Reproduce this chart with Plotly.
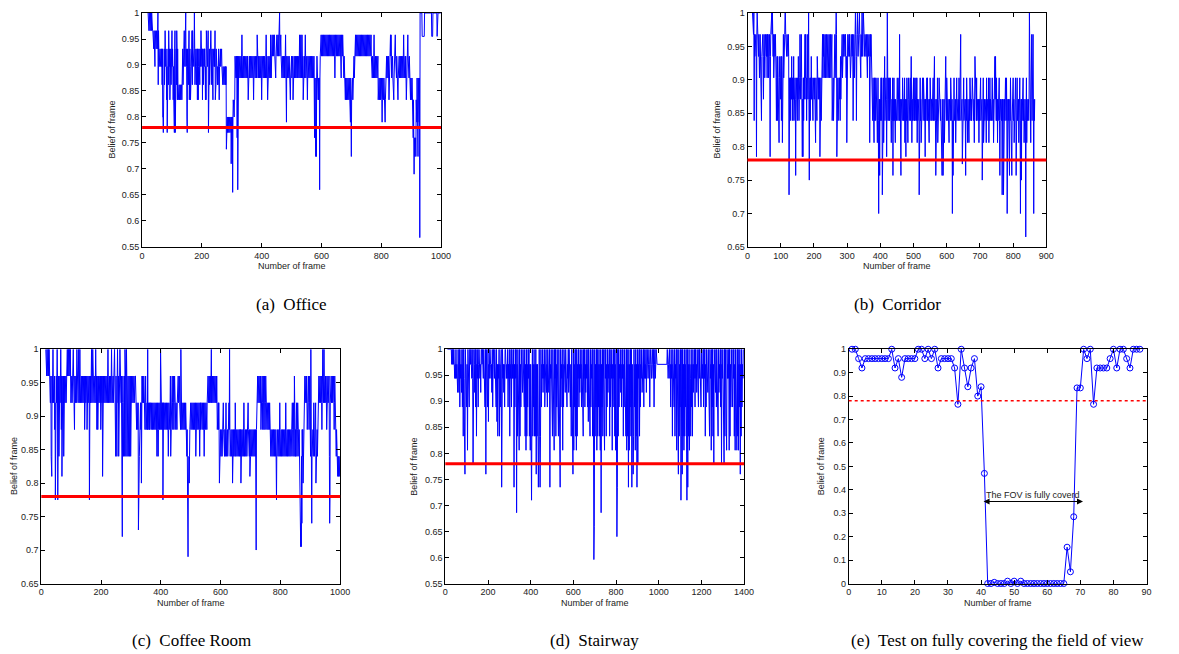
import plotly.graph_objects as go

W, H = 1179, 654

# ---------------- DATA ----------------
threshold = 0.78

# Every chunk covers 50 samples; one character = one sample.

# (a) Office: frames 20..999 (step 1)
office_levels = {'0': 1, '1': .966, '2': .931, '3': .897, '4': .862, '5': .833, '6': .80,
                 '7': .77, '8': .738, '9': .71, 'a': .655, 'b': .958, 'c': .917, 'd': .875,
                 'e': .79, 'f': .76, 'g': .724, 'h': .69, 'i': .66, 'j': .568, 'k': .955}
office_start, office_step = 20, 1
office_chunks = [
    "0101010101 0101111212 1213121212 1210412323 2323232426",
    "6723242123 2353723241 2325232423 1323535672 1723241252",
    "4545454545 4545232423 2123210323 6723242153 2353232141",
    "2323202423 2343252353 2324232123 3252343232 2353512323",
    "2172324232 1234232523 2323152423 2343432353 2323232343",
    "4343434343 4386767676 7676767697 676a656565 5cdcdcdcfc",
    "icdcdcdcdc dcdcbcdcdc dcdcdcdcdc dcdcd5dcdc dcdcdcdcdc",
    "dcd5dcdcdc dcdcdbcdcd cdcdcdcdcd 5dcdcdcdcd cdcdcbcdcd",
    "5dcdcdcdcd bcdcdbcbcb cbcbcdcdcb cbcbcbcbcb 0cbcbcdcdc",
    "dcdcdcdcdc bcdecdcdcd cdcdcd5dcd cdcdc5dcdc dcdcdcdcdc",
    "cdcdcdcbcd cbcdcbcdc5 dcdcdcbcdc dcd5dcdcdc dcdcdcdcdc",
    "dcdcdcdfdf dgdgdcd5d5 d5ddidcbcb cbcbcbcbcb cbcbcbcbcb",
    "cbcbcbcbcb cbcbcbcbcb cbcbcdcbcb cbcbcbcbcb cbcbcbdbcb",
    "cbcbcdcdcd 5d5d5d5d5d 5d5d5d5ed5 g5d5d5dcdc dcbcbcbcbc",
    "bcbcbcbcbc bcbcbcbcbc bcbcbcbcbc bcbcbcbcbc bcbcbcbcdc",
    "dcdcdcbcdc dcdcdcdcdc 5d5d5d5d5d 5d5e5d5d5d 5d5e5dcdcd",
    "cdcdcd5dcd cbcbcdcdcd 5d5dcbcbcd cdcd5d5dcd cdcdcdcdcd",
    "cdcdcbcdcd cdcd5dcdcb cdcdcdcd5d 5d5d5d5f5f hfgfgfg5ge",
    "dedgdededj 0000000kkk kkkkk00000 0000000000 000000000k",
    "kkk0000000 0000000k00 0000000000",
]

# (b) Corridor: frames 15..865 (step 1)
corridor_levels = {'0': 1, '1': .968, '2': .935, '3': .903, '4': .871, '5': .839, '6': .806,
                   '7': .774, '8': .742, '9': .71, 'a': .70, 'b': .728, 'c': .757, 'd': .785,
                   'e': .665, 'f': .75}
corridor_start, corridor_step = 15, 1
corridor_chunks = [
    "0101051212 12d1012121 2321212521 2124212321 2121312131",
    "212d210101 0121312121 2353252343 6323432523 6121312100",
    "1212121212 b434353424 3534253434 c434353424 5431343134",
    "d4d3534313 1435313430 4f43534243 4353434353 6343524343",
    "343d343524 2131213121 3121312131 2131213121 5343531313",
    "2101d34353 4343524313 1313121212 1232612121 2121232121",
    "2125212321 0125210121 2101213121 0121012121 2121213121",
    "2126212123 4353536353 4535456535 a54c453353 4b45364525",
    "3434d40453 4535434365 453c453545 6454543454 5351545c45",
    "4535354536 45d4535464 3454535424 6454535354 5434536454",
    "54b4535464 5434535454 d454535354 5464535454 4535354525",
    "45c4545364 5434345454 5c54c45464 5424535454 5464545354",
    "54a5c45354 5464535454 5434515154 5475453545 45c4535464",
    "5464535454 5434345464 2424535454 5464535354 54f4536454",
    "5454635454 5364535454 5434546454 2424535464 54535c5454",
    "54b454b454 5434535a54 5464c45354 5c54535464 5434c45354",
    "5464535a54 f454535464 545e536454 5454035464 2151214a45",
    "4",
]

# (c) Coffee Room: frames 15..1000 (step 1)
coffee_levels = {'0': 1, '1': .96, '2': .92, '3': .88, '4': .84, '5': .80, '6': .76,
                 '7': .72, '8': .69, '9': .775, 'a': .81, 'b': .73, 'c': .70, 'd': .74, 'e': .705}
coffee_start, coffee_step = 15, 1
coffee_chunks = [
    "0101010101 1010122141 a121012121 3291212101 9121412121",
    "0131a13121 4121212121 2101010101 0101212121 2101213121",
    "2121012121 0121012121 2121212121 3121212131 2121219212",
    "1210121012 1212121012 1312312121 2121312121 a121212121",
    "2121212101 2121212121 0121212121 0121414141 0121414101",
    "2121467212 4141404141 0141414121 4121412121 2121212121",
    "1212323232 b654323232 5212121212 3232123232 3032323232",
    "2323232323 2323232323 2343234323 2323023232 3293232323",
    "2323232323 4323232143 2321232123 2121232323 2121212123",
    "2303232323 2323232323 2343558554 5432323232 3232323232",
    "3242323232 3232343232 2323232323 4323232323 2121212121",
    "2121021212 1212121212 1212323232 3543434343 4343234343",
    "3432343434 3432303434 3434353434 3434234343 4343434343",
    "3435343434 3432343434 3434343234 343a343434 3434343434",
    "343dc32121 2121212121 3232123212 3212321232 3232323232",
    "3434343434 3434343434 3494343434 3432343434 3434343434",
    "3432343434 3434343434 3434323432 3414343432 3432343434",
    "34dede4d34 3543432121 2121232121 2321234041 d434343234",
    "3432545434 3432121212 1212321012 1012121212 3212121214",
    "d921212121 2121232121 2343434a4a a4a4a4",
]

# (d) Stairway: frames 10..1396 (one sample every 2 frames)
stair_levels = {'0': 1, '1': .971, '2': .944, '3': .917, '4': .889, '5': .861, '6': .833,
                '7': .806, '8': .78, '9': .76, 'a': .735, 'b': .71, 'c': .686, 'd': .66,
                'e': .64, 'f': .596}
stair_start, stair_step = 10, 2
stair_chunks = [
    "0000000000 1010101212 0212301304 1203140602 6902141702",
    "1400101202 8101304061 2041012130 0101203140 9021405120",
    "0121304101 2031405161 2061410a40 2131400121 2041206120",
    "402120a140 20c1604170 6140213021 4061706140 2061716b40",
    "6140616091 616a606a60 4120312041 2031403120 a120416041",
    "7020614021 6041a04120 7140213021 4120302141 6041907140",
    "6070612041 3021402160 2041302140 5041604120 604fd06140",
    "7061406170 c140604170 2061403120 6041207120 4061706ea0",
    "6041203140 2061403160 7061a07140 60a1696041 7061a08120",
    "6041203120 4021203101 2101410121 0120410210 1111111111",
    "1111111111 1111101210 0214021602 1406120702 6906140b60",
    "9061706140 6b0a160712 6041603120 4021302140 2031402120",
    "4020614021 3041602170 4061802130 4021603120 4081203180",
    "6041702120 7061403140 2061704170 6071409160 4120",
]

# (e) Test on fully covering the field of view: frames 1..88
test_vals = [
    1, 1, .96, .92, .96, .96, .96, .96, .96, .96,
    .96, .96, 1, .92, .96, .88, .96, .96, .96, .96,
    1, 1, .96, 1, .96, 1, .92, .96, .96, .96,
    .96, .92, .765, 1, .92, .84, .92, .96, .80, .84,
    .47, 0, 0, .005, 0, 0, 0, .01, 0, .01,
    0, .01, 0, 0, 0, 0, 0, 0, 0, 0,
    0, 0, 0, 0, 0, .155, .05, .285, .835, .835,
    1, .96, 1, .765, .92, .92, .92, .92, .96, 1,
    .92, 1, 1, .96, .92, 1, 1, 1,
]
fov_start, fov_end, fov_level = 40.3, 70.8, 0.35
fov_text = "The FOV is fully coverd"

# tick values
x_ticks_a = [0, 200, 400, 600, 800, 1000]
y_ticks_a = [0.55, 0.6, 0.65, 0.7, 0.75, 0.8, 0.85, 0.9, 0.95, 1]
x_ticks_b = [0, 100, 200, 300, 400, 500, 600, 700, 800, 900]
y_ticks_b = [0.65, 0.7, 0.75, 0.8, 0.85, 0.9, 0.95, 1]
x_ticks_c = [0, 200, 400, 600, 800, 1000]
y_ticks_c = [0.65, 0.7, 0.75, 0.8, 0.85, 0.9, 0.95, 1]
x_ticks_d = [0, 200, 400, 600, 800, 1000, 1200, 1400]
y_ticks_d = [0.55, 0.6, 0.65, 0.7, 0.75, 0.8, 0.85, 0.9, 0.95, 1]
x_ticks_e = [0, 10, 20, 30, 40, 50, 60, 70, 80, 90]
y_ticks_e = [0, 0.1, 0.2, 0.3, 0.4, 0.5, 0.6, 0.7, 0.8, 0.9, 1]

captions = ["(a)  Office", "(b)  Corridor", "(c)  Coffee Room", "(d)  Stairway",
            "(e)  Test on fully covering the field of view"]
x_title = "Number of frame"
y_title = "Belief of frame"

# ---------------- LAYOUT GEOMETRY (target pixels) ----------------
boxes = [
    (142.3, 440.7, 10.7, 245.7),
    (746.7, 1045.0, 10.7, 245.7),
    (41.7, 340.0, 348.3, 583.3),
    (445.0, 743.3, 348.3, 583.3),
    (847.7, 1145.0, 348.3, 583.3),
]
x_ranges = [[0, 1000], [0, 900], [0, 1000], [0, 1400], [0, 90]]
y_ranges = [[0.55, 1], [0.65, 1], [0.65, 1], [0.55, 1], [0, 1]]
x_ticks = [x_ticks_a, x_ticks_b, x_ticks_c, x_ticks_d, x_ticks_e]
y_ticks = [y_ticks_a, y_ticks_b, y_ticks_c, y_ticks_d, y_ticks_e]
caption_pos = [(291, 303), (896, 303), (192, 640), (594, 640), (996, 640)]
ytitle_x = [112, 716, 15, 414, 820]

# the page places the figure with a small offset; compensate
AX, BX = 0.9932, 8.0
AY, BY = 0.9878, 11.0


def clamp(v):
    return min(1.0, max(0.0, v))


def fx(p):
    p = 1.006 * p - 3.5
    return clamp((p - BX) / (AX * W))


def fy(p):
    return clamp(1 - (p - BY) / (AY * H))


BLUE = "#0000ff"
RED = "#ff0000"
SANS = "Liberation Sans, Arial, sans-serif"
TICKFONT = dict(family=SANS, size=9, color="#222222")


def xid(n):
    return "x" if n == 1 else f"x{n}"


def yid(n):
    return "y" if n == 1 else f"y{n}"


def decode(chunks, levels, start, step, chunk_len=50):
    xs, ys = [], []
    for k, ch in enumerate(chunks):
        s = ch.replace(" ", "")
        for j, c in enumerate(s):
            xs.append(start + step * (k * chunk_len + j))
            ys.append(levels[c])
    return xs, ys


fig = go.Figure()

dense = [
    decode(office_chunks, office_levels, office_start, office_step),
    decode(corridor_chunks, corridor_levels, corridor_start, corridor_step),
    decode(coffee_chunks, coffee_levels, coffee_start, coffee_step),
    decode(stair_chunks, stair_levels, stair_start, stair_step),
]

for i, (xs, ys) in enumerate(dense):
    n = i + 1
    fig.add_trace(go.Scatter(
        x=xs, y=ys, mode="lines",
        line=dict(color=BLUE, width=1),
        xaxis=xid(n), yaxis=yid(n), showlegend=False, hoverinfo="skip",
    ))

test_frames = list(range(1, len(test_vals) + 1))
fig.add_trace(go.Scatter(
    x=test_frames, y=test_vals, mode="lines+markers",
    line=dict(color=BLUE, width=1),
    marker=dict(symbol="circle-open", size=6, color=BLUE, line=dict(width=1, color=BLUE)),
    xaxis="x5", yaxis="y5", showlegend=False, hoverinfo="skip", cliponaxis=False,
))

layout = dict(
    width=W, height=H,
    margin=dict(l=0, r=0, t=0, b=0),
    paper_bgcolor="white", plot_bgcolor="white",
    showlegend=False,
)

shapes = []
annotations = []

for i, (l, r, t, b) in enumerate(boxes):
    n = i + 1
    common = dict(
        ticks="inside", ticklen=4, tickwidth=1, tickcolor="black",
        mirror="allticks", showline=True, linecolor="black", linewidth=1,
        showgrid=False, zeroline=False, tickfont=TICKFONT, fixedrange=True,
    )
    layout["xaxis" if n == 1 else f"xaxis{n}"] = dict(
        domain=[fx(l), fx(r)], range=x_ranges[i], anchor=yid(n),
        tickvals=x_ticks[i], ticktext=[f"{v:g}" for v in x_ticks[i]], **common)
    layout["yaxis" if n == 1 else f"yaxis{n}"] = dict(
        domain=[fy(b), fy(t)], range=y_ranges[i], anchor=xid(n),
        tickvals=y_ticks[i], ticktext=[f"{v:g}" for v in y_ticks[i]], **common)

    if n < 5:
        line_style = dict(color=RED, width=3)
    else:
        line_style = dict(color=RED, width=1.5, dash="dot")
    shapes.append(dict(type="line", xref=f"{xid(n)} domain", yref=yid(n),
                       x0=0, x1=1, y0=threshold, y1=threshold, line=line_style))

    annotations.append(dict(text=x_title, xref="paper", yref="paper",
                            x=fx((l + r) / 2), y=fy(b + 19.5),
                            xanchor="center", yanchor="middle", showarrow=False,
                            font=dict(family=SANS, size=9, color="#222222")))
    annotations.append(dict(text=y_title, xref="paper", yref="paper",
                            x=fx(ytitle_x[i]), y=fy((t + b) / 2), textangle=-90,
                            xanchor="center", yanchor="middle", showarrow=False,
                            font=dict(family=SANS, size=9, color="#222222")))
    cx, cy = caption_pos[i]
    annotations.append(dict(text=captions[i], xref="paper", yref="paper",
                            x=fx(cx), y=fy(cy), xanchor="center", yanchor="middle",
                            showarrow=False,
                            font=dict(family="Liberation Serif, Times New Roman, serif",
                                      size=17, color="black")))

annotations.append(dict(text="", x=fov_end, y=fov_level, xref="x5", yref="y5",
                        ax=fov_start, ay=fov_level, axref="x5", ayref="y5",
                        showarrow=True, arrowhead=2, arrowside="end+start",
                        arrowsize=1.2, arrowwidth=1, arrowcolor="black"))
annotations.append(dict(text=fov_text, x=(fov_start + fov_end) / 2, y=fov_level + 0.027,
                        xref="x5", yref="y5", showarrow=False,
                        xanchor="center", yanchor="middle",
                        font=dict(family=SANS, size=9, color="#222222")))

layout["shapes"] = shapes
layout["annotations"] = annotations
fig.update_layout(**layout)

fig.write_html("out.html")
